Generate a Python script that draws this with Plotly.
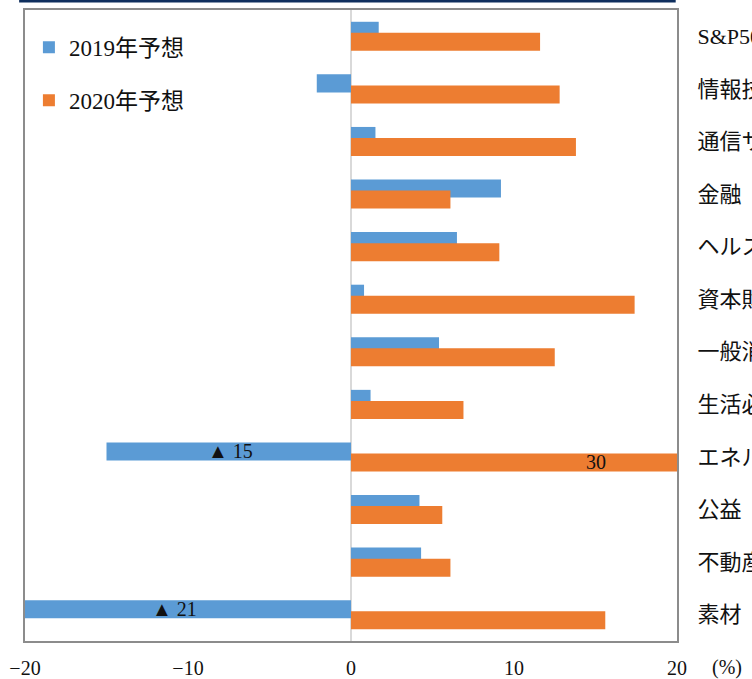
import plotly.graph_objects as go

categories = ["S&P500", "情報技術", "通信サービス", "金融", "ヘルスケア", "資本財",
              "一般消費財", "生活必需品", "エネルギー", "公益", "不動産", "素材"]
eps_2019 = [1.7, -2.1, 1.5, 9.2, 6.5, 0.8, 5.4, 1.2, -15.0, 4.2, 4.3, -21.0]
eps_2020 = [11.6, 12.8, 13.8, 6.1, 9.1, 17.4, 12.5, 6.9, 30.0, 5.6, 6.1, 15.6]
x_ticks = [-20, -10, 0, 10, 20]

# labels for bars running off the axis range
label_text = ["▲ 15", "▲ 21", "30"]
label_cat = ["エネルギー", "素材", "エネルギー"]
label_x = [-7.4, -10.8, 15.0]
label_series = [0, 0, 1]

FONT = "Liberation Serif, Noto Sans CJK JP, serif"
BLUE = "#5b9bd5"
ORANGE = "#ed7d31"

fig = go.Figure()
fig.add_trace(go.Bar(
    y=categories, x=eps_2019, orientation="h", name="2019年予想",
    marker=dict(color=BLUE, line=dict(width=0)),
    width=0.343, offset=-0.276, legendgroup="a"))
fig.add_trace(go.Bar(
    y=categories, x=eps_2020, orientation="h", name="2020年予想",
    marker=dict(color=ORANGE, line=dict(width=0)),
    width=0.343, offset=-0.066, legendgroup="b"))

annotations = []
for t, c, x, s in zip(label_text, label_cat, label_x, label_series):
    idx = categories.index(c)
    annotations.append(dict(
        x=x, y=idx - 0.105 if s == 0 else idx + 0.105,
        xref="x", yref="y", text=t, showarrow=False,
        font=dict(family=FONT, size=20, color="#111")))
annotations.append(dict(
    x=1.0, xref="paper", xshift=33, xanchor="left",
    y=0, yref="paper", yshift=-26, yanchor="middle",
    text="(%)", showarrow=False,
    font=dict(family=FONT, size=20, color="#111")))

fig.update_layout(
    width=752, height=679,
    margin=dict(l=25, r=75, t=10, b=38),
    paper_bgcolor="white", plot_bgcolor="white",
    barmode="overlay",
    font=dict(family=FONT, size=18, color="#111"),
    showlegend=True,
    legend=dict(x=0.006, y=0.975, xanchor="left", yanchor="top",
                bgcolor="rgba(0,0,0,0)", font=dict(family=FONT, size=23),
                tracegroupgap=20, itemwidth=30, traceorder="grouped"),
    annotations=annotations,
    shapes=[dict(type="line", xref="paper", yref="paper",
                 x0=-0.009, x1=0.998, y0=1.0143, y1=1.0143,
                 line=dict(color="#0f2f5e", width=3))],
)
fig.update_xaxes(
    range=[-20, 20], tickvals=x_ticks, ticktext=[("−" + str(-v)) if v < 0 else str(v) for v in x_ticks],
    showgrid=False, zeroline=True, zerolinecolor="#d9d9d9", zerolinewidth=2,
    showline=True, mirror=True, linecolor="#8c8c8c", linewidth=2,
    ticks="", ticklabelstandoff=8, automargin=False,
    tickfont=dict(family=FONT, size=20, color="#111"))
fig.update_yaxes(
    type="category", categoryorder="array", categoryarray=categories,
    range=[len(categories) - 0.5, -0.5], side="right",
    showgrid=False, showline=True, mirror=True, linecolor="#8c8c8c", linewidth=2,
    ticks="", ticklabelstandoff=14, automargin=False,
    tickfont=dict(family=FONT, size=22, color="#111"))

fig.write_html("out.html")
